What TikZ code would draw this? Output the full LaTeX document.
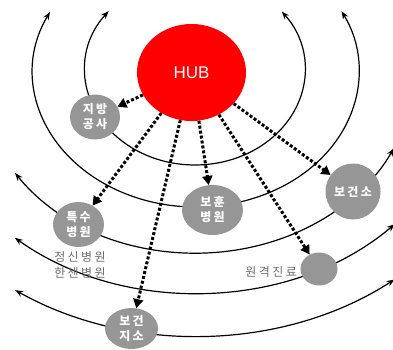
\documentclass[tikz,border=0pt]{standalone}
\usepackage{fontspec}
\setmainfont{Liberation Sans}
\newfontfamily\krfont{Noto Sans CJK KR}
\usetikzlibrary{arrows.meta,shapes.geometric}
\definecolor{nodegray}{HTML}{969696}
\definecolor{txtgray}{HTML}{6E6E6E}
\tikzset{
  orbit/.style={line width=1.2pt,black,{Stealth[length=8pt,width=6pt]}-{Stealth[length=8pt,width=6pt]}},
  dotarrow/.style={line width=3pt,dash pattern=on 3pt off 2pt,-{Triangle[length=9pt,width=10pt]}},
  site/.style={ellipse,fill=nodegray,inner sep=0pt,text=white,align=center,
    font=\krfont\fontsize{12}{15}\selectfont\bfseries\addfontfeatures{LetterSpace=20}},
  gtext/.style={text=txtgray,align=center,inner sep=0pt,
    font=\krfont\fontsize{12}{16}\selectfont\addfontfeatures{LetterSpace=20}}
}
\begin{document}
\begin{tikzpicture}[x=1pt,y=1pt]
\useasboundingbox (0,0) rectangle (393,349);
% orbits
\draw[orbit] (195,279) ++(141.7:110pt and 95pt) arc[start angle=141.7,end angle=398,x radius=110pt,y radius=95pt];
\draw[orbit] (196,277) ++(153.6:163pt and 135pt) arc[start angle=153.6,end angle=386.8,x radius=163pt,y radius=135pt];
\draw[orbit] (196,277) ++(213.9:218pt and 181pt) arc[start angle=213.9,end angle=335.1,x radius=218pt,y radius=181pt];
\draw[orbit] (196,277) ++(228.6:274pt and 221pt) arc[start angle=228.6,end angle=316.5,x radius=274pt,y radius=221pt];
\draw[orbit] (196,277) ++(235.7:321pt and 264pt) arc[start angle=235.7,end angle=308.2,x radius=321pt,y radius=264pt];
% nodes
\node[ellipse,fill=red,minimum width=109pt,minimum height=97pt,inner sep=0pt,text=white,font=\fontsize{17}{20}\selectfont] (hub) at (191.5,276.5) {HUB};
\node[site,minimum width=50pt,minimum height=45pt] (jibang) at (95,232) {지방\\공사};
\node[site,minimum width=51pt,minimum height=45pt] (teuksu) at (78.5,124.5) {특수\\병원};
\node[site,minimum width=61pt,minimum height=50pt] (bohun) at (212.5,139) {보훈\\병원};
\node[site,minimum width=55pt,minimum height=56pt] (bogeonso) at (353,157.5) {보건소};
\node[site,minimum width=37pt,minimum height=33pt] (wongyeok) at (319,80) {};
\node[site,minimum width=53pt,minimum height=41pt] (jiso) at (131.5,20.5) {보건\\지소};
\node[gtext] (jeongsin) at (80,84) {정신병원\\한센병원};
\node[gtext,anchor=east] (wglabel) at (297,77) {원격진료};
% dotted arrows
\draw[dotarrow] (hub) -- (jibang);
\draw[dotarrow] (hub) -- (teuksu);
\draw[dotarrow] (hub) -- (jiso);
\draw[dotarrow] (hub) -- (bohun);
\draw[dotarrow] (hub) -- (wongyeok);
\draw[dotarrow] (hub) -- (bogeonso);
\end{tikzpicture}
\end{document}
